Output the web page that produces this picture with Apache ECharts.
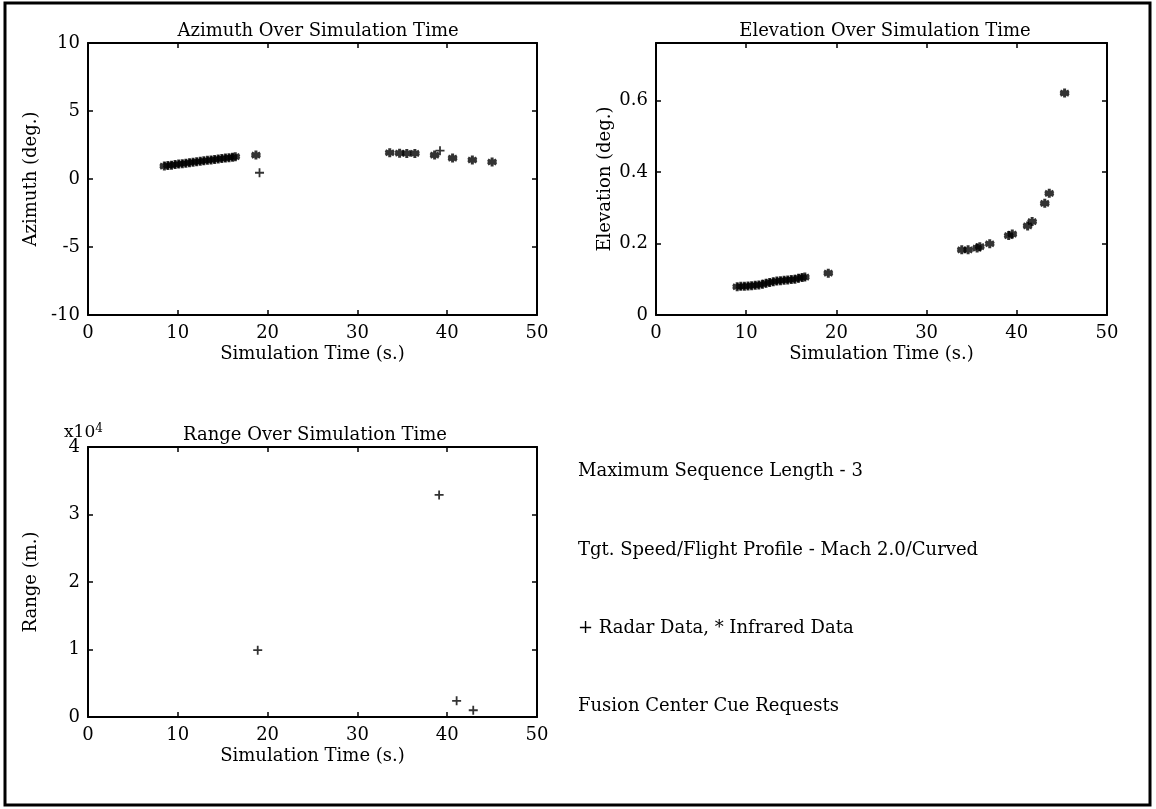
<!DOCTYPE html>
<html>
<head>
<meta charset="utf-8">
<script src="https://cdn.jsdelivr.net/npm/echarts@6/dist/echarts.min.js"></script>
<style>
  html, body { margin: 0; padding: 0; background: #fff; }
  #main { width: 1156px; height: 809px; }
</style>
</head>
<body>
<div id="main"></div>
<script>
// 方位角 - 红外数据 (*)
var azIrTime = [8.5, 8.9, 9.3, 9.7, 10.1, 10.5, 10.9, 11.3, 11.7, 12.1, 12.5, 12.9, 13.3, 13.7, 14.1, 14.5, 14.9, 15.3, 15.7, 16.1, 16.4,
                18.7, 33.6, 34.7, 35.5, 36.4, 38.6, 40.6, 42.8, 45.0];
var azIrValue = [0.95, 1.0, 1.02, 1.06, 1.1, 1.13, 1.16, 1.2, 1.24, 1.27, 1.3, 1.34, 1.37, 1.4, 1.44, 1.47, 1.5, 1.54, 1.57, 1.6, 1.64,
                 1.76, 1.93, 1.9, 1.88, 1.88, 1.76, 1.54, 1.4, 1.25];
// 方位角 - 雷达数据 (+)
var azRadarTime = [19.1, 39.2];
var azRadarValue = [0.46, 2.08];

// 俯仰角 - 红外数据 (*)
var elTime = [9.0, 9.4, 9.8, 10.2, 10.6, 11.0, 11.4, 11.8, 12.2, 12.6, 13.0, 13.4, 13.8, 14.2, 14.6, 15.0, 15.4, 15.8, 16.2, 16.5,
              19.1, 33.9, 34.6, 35.6, 35.9, 37.0, 39.1, 39.5, 41.2, 41.7, 43.1, 43.6, 45.3];
var elValue = [0.079, 0.08, 0.08, 0.081, 0.082, 0.083, 0.084, 0.086, 0.089, 0.091, 0.093, 0.095, 0.096, 0.097, 0.098, 0.099, 0.1, 0.103, 0.105, 0.106,
               0.117, 0.182, 0.182, 0.187, 0.191, 0.199, 0.222, 0.226, 0.249, 0.261, 0.312, 0.34, 0.62];

// 距离 - 雷达数据 (+)
var rangeTime = [18.9, 39.1, 41.05, 42.9];
var rangeValue = [9900, 32900, 2400, 1000];

var textLines = ['Maximum Sequence Length - 3', 'Tgt. Speed/Flight Profile - Mach 2.0/Curved',
                 '+ Radar Data, * Infrared Data', 'Fusion Center Cue Requests'];

var FONT = 'DejaVu Serif';
var FS = 18;
var PLUS = 'path://M4,0H6V4H10V6H6V10H4V6H0V4H4Z';
var STAR = 'path://M5,0L5,10M0.7,2.5L9.3,7.5M0.7,7.5L9.3,2.5M0.5,5L9.5,5';

function pairs(xs, ys) {
    var out = [];
    for (var i = 0; i < xs.length; i++) out.push([xs[i], ys[i]]);
    return out;
}

var lineStyle = { color: '#000', width: 2 };
var tickStyle = { show: true, inside: true, length: 5, lineStyle: { color: '#000', width: 1.5 } };
var labelStyle = { color: '#000', fontFamily: FONT, fontSize: FS };
var nameStyle = { color: '#000', fontFamily: FONT, fontSize: FS };

// 生成一个坐标系的四条轴（底、顶、左、右）
function makeAxes(g, yMin, yMax, yInterval, yName, yFmt, yGap, showMax) {
    var xs = [{
        gridIndex: g, type: 'value', min: 0, max: 50, interval: 10, position: 'bottom',
        axisLine: { onZero: false, lineStyle: lineStyle }, axisTick: tickStyle, splitLine: { show: false },
        axisLabel: Object.assign({ margin: 9 }, labelStyle),
        name: 'Simulation Time (s.)', nameLocation: 'middle', nameGap: 30, nameTextStyle: nameStyle
    }, {
        gridIndex: g, type: 'value', min: 0, max: 50, interval: 10, position: 'top',
        axisLine: { onZero: false, lineStyle: lineStyle }, axisTick: tickStyle, splitLine: { show: false },
        axisLabel: { show: false }
    }];
    var ys = [{
        gridIndex: g, type: 'value', min: yMin, max: yMax, interval: yInterval, position: 'left',
        axisLine: { onZero: false, lineStyle: lineStyle }, axisTick: tickStyle, splitLine: { show: false },
        axisLabel: Object.assign({ margin: 8, formatter: yFmt, showMaxLabel: showMax }, labelStyle),
        name: yName, nameLocation: 'middle', nameGap: yGap, nameRotate: 90, nameTextStyle: nameStyle
    }, {
        gridIndex: g, type: 'value', min: yMin, max: yMax, interval: yInterval, position: 'right',
        axisLine: { onZero: false, lineStyle: lineStyle }, axisTick: tickStyle, splitLine: { show: false },
        axisLabel: { show: false }
    }];
    return { x: xs, y: ys };
}

var a1 = makeAxes(0, -10, 10, 5, 'Azimuth (deg.)', null, 48, true);
var a2 = makeAxes(1, 0, 0.76, 0.2, 'Elevation (deg.)', function (v) { return v === 0 ? '0' : v.toFixed(1); }, 42, false);
var a3 = makeAxes(2, 0, 40000, 10000, 'Range (m.)', function (v) { return String(v / 10000); }, 48, true);

var titleStyle = { fontFamily: FONT, fontSize: FS, fontWeight: 'normal', color: '#000' };
var starStyle = { color: 'none', borderColor: '#000', borderWidth: 3 };

var myChart = echarts.init(document.getElementById('main'));
myChart.setOption({
    backgroundColor: '#fff',
    animation: false,
    textStyle: { fontFamily: FONT },
    title: [
        { text: 'Azimuth Over Simulation Time', left: 313, top: 17, textAlign: 'center', textStyle: titleStyle },
        { text: 'Elevation Over Simulation Time', left: 880, top: 17, textAlign: 'center', textStyle: titleStyle },
        { text: 'Range Over Simulation Time', left: 178, top: 421, textStyle: titleStyle }
    ],
    grid: [
        { left: 88, top: 43, width: 449, height: 272 },
        { left: 656, top: 43, width: 451, height: 272 },
        { left: 88, top: 447, width: 449, height: 270 }
    ],
    xAxis: a1.x.concat(a2.x, a3.x),
    yAxis: a1.y.concat(a2.y, a3.y),
    series: [
        { type: 'scatter', xAxisIndex: 0, yAxisIndex: 0, data: pairs(azIrTime, azIrValue),
          symbol: STAR, symbolSize: 9, itemStyle: starStyle },
        { type: 'scatter', xAxisIndex: 0, yAxisIndex: 0, data: pairs(azRadarTime, azRadarValue),
          symbol: PLUS, symbolSize: 9, itemStyle: { color: '#000' } },
        { type: 'scatter', xAxisIndex: 2, yAxisIndex: 2, data: pairs(elTime, elValue),
          symbol: STAR, symbolSize: 9, itemStyle: starStyle },
        { type: 'scatter', xAxisIndex: 4, yAxisIndex: 4, data: pairs(rangeTime, rangeValue),
          symbol: PLUS, symbolSize: 9, itemStyle: { color: '#000' } }
    ],
    graphic: [
        { type: 'rect', shape: { x: 5, y: 3, width: 1145, height: 802 },
          style: { fill: 'none', stroke: '#000', lineWidth: 3 } },
        { type: 'text', left: 64, top: 423,
          style: { text: 'x10{s|4}', fill: '#000', font: '17px "DejaVu Serif"',
                   rich: { s: { fontSize: 12, verticalAlign: 'top', padding: [0, 0, 8, 0], fontFamily: FONT } } } },
        { type: 'text', left: 578, top: 462, style: { text: textLines[0], fill: '#000', font: FS + 'px "DejaVu Serif"' } },
        { type: 'text', left: 578, top: 541, style: { text: textLines[1], fill: '#000', font: FS + 'px "DejaVu Serif"' } },
        { type: 'text', left: 578, top: 619, style: { text: textLines[2], fill: '#000', font: FS + 'px "DejaVu Serif"' } },
        { type: 'text', left: 578, top: 697, style: { text: textLines[3], fill: '#000', font: FS + 'px "DejaVu Serif"' } }
    ]
});
</script>
</body>
</html>
